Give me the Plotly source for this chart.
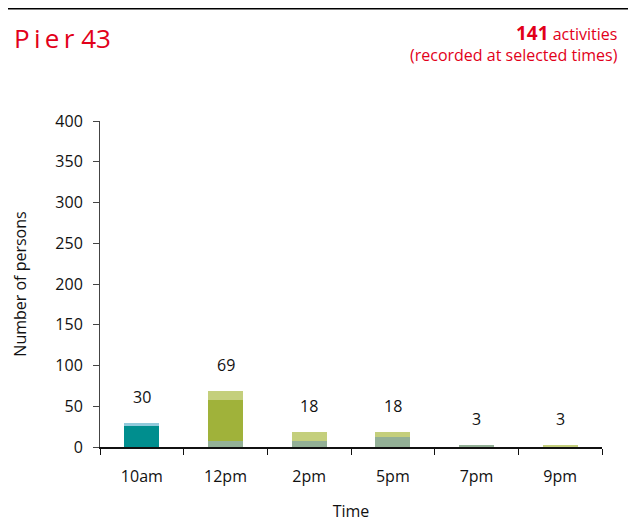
import plotly.graph_objects as go

categories = ["10am", "12pm", "2pm", "5pm", "7pm", "9pm"]
# stacked segments (bottom to top)
gray_green = [0, 7, 7, 12, 3, 0]
teal = [26, 0, 0, 0, 0, 0]
olive = [0, 51, 0, 0, 0, 0]
light_blue = [4, 0, 0, 0, 0, 0]
light_olive = [0, 11, 11, 6, 0, 3]
totals = [30, 69, 18, 18, 3, 3]

series = [
    ("Group A", gray_green, "#93B096"),
    ("Group B", teal, "#008E8E"),
    ("Group C", olive, "#A0B23A"),
    ("Group D", light_blue, "#92CADB"),
    ("Group E", light_olive, "#C4CF7C"),
]

FONT = "Open Sans"
RED = "#E2001A"

fig = go.Figure()
for name, vals, col in series:
    fig.add_trace(go.Bar(x=categories, y=vals, name=name, marker=dict(color=col, line=dict(width=0)),
                         width=0.42, hoverinfo="x+y+name"))

for c, t in zip(categories, totals):
    fig.add_annotation(x=c, y=t, text=str(t), showarrow=False, yshift=26,
                       font=dict(family=FONT, size=16, color="#111111"))

fig.add_annotation(xref="paper", yref="paper", x=-0.176, y=1.256, xanchor="left", yanchor="middle",
                   text="P\u2009i\u2009e\u2009r 43", showarrow=False,
                   font=dict(family=FONT, size=26, color=RED))
fig.add_annotation(xref="paper", yref="paper", x=1.036, y=1.315, xanchor="right", yanchor="top",
                   align="right", showarrow=False,
                   text="<b style='font-size:19px'>141</b> activities<br>(recorded at selected times)",
                   font=dict(family=FONT, size=16, color=RED))
fig.add_shape(type="line", xref="paper", yref="paper", x0=-0.5, x1=1.5, y0=1.344, y1=1.344,
              line=dict(color="#000000", width=1.5))

fig.update_layout(
    width=636, height=524,
    margin=dict(l=89, r=42, t=113, b=85),
    barmode="stack", bargap=0.58,
    showlegend=False,
    plot_bgcolor="white", paper_bgcolor="white",
    font=dict(family=FONT, size=16, color="#111111"),
    xaxis=dict(title=dict(text="Time", standoff=20, font=dict(size=16)),
               showline=True, linecolor="#111111", linewidth=1.5,
               ticks="outside", tickson="boundaries", ticklen=6, tickcolor="#111111",
               ticklabelstandoff=14, showgrid=False),
    yaxis=dict(title=dict(text="Number of persons", standoff=24, font=dict(size=16)),
               range=[0, 400], dtick=50, showline=True, linecolor="#444444", linewidth=1,
               ticks="outside", ticklen=6, tickcolor="#444444", ticklabelstandoff=7,
               showgrid=False, zeroline=False),
)

fig.write_html("out.html")
